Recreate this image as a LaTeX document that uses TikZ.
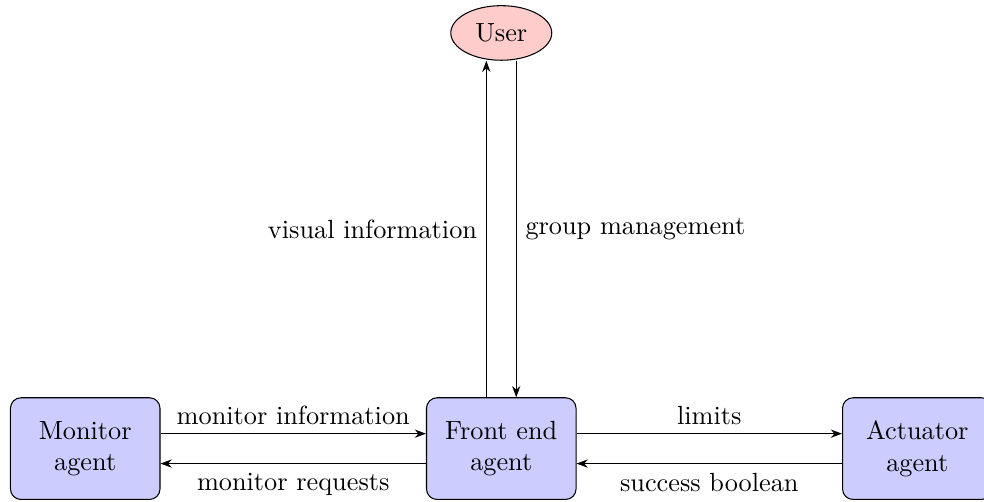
\documentclass[tikz,border=0pt]{standalone}
\usepackage{xcolor}
\usepackage{tikz}
\usetikzlibrary{arrows.meta,positioning,shapes.geometric}

\begin{document}
\begin{tikzpicture}[node distance=4.5cm and 3.55cm,
  agt/.style={draw,rounded corners=4pt,fill=blue!20,minimum height=13.6mm,minimum width=20mm,align=center},
  usr/.style={draw,ellipse,fill=red!20,minimum width=13.5mm,minimum height=7.3mm},
  lnk/.style={-{Stealth[length=1.5mm,width=1.1mm]}}]
  \useasboundingbox (-1.14,-0.71) rectangle (12.02,6.0);
  \node[agt] (mon) at (0,0) {Monitor\\agent};
  \node[agt,right=of mon] (fe) {Front end\\agent};
  \node[agt,right=of fe] (act) {Actuator\\agent};
  \node[usr,above=of fe] (usr) {User};
  % front end <-> monitor
  \draw[lnk] ([yshift=2mm]mon.east) -- node[above]{monitor information} ([yshift=2mm]fe.west);
  \draw[lnk] ([yshift=-2mm]fe.west) -- node[below]{monitor requests} ([yshift=-2mm]mon.east);
  % front end <-> actuator
  \draw[lnk] ([yshift=2mm]fe.east) -- node[above]{limits} ([yshift=2mm]act.west);
  \draw[lnk] ([yshift=-2mm]act.west) -- node[below]{success boolean} ([yshift=-2mm]fe.east);
  % front end <-> user
  \draw[lnk] ([xshift=-2mm]fe.north) -- node[left]{visual information} ([xshift=-2mm]usr.south);
  \draw[lnk] ([xshift=2mm]usr.south) -- node[right]{group management} ([xshift=2mm]fe.north);
\end{tikzpicture}
\end{document}
